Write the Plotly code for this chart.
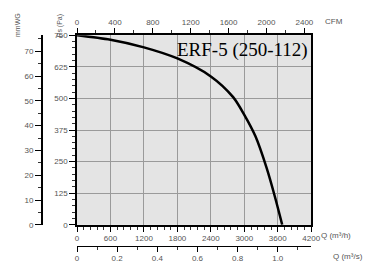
import plotly.graph_objects as go

# Fan curve data
q_m3h = [0, 600, 1200, 1800, 2400, 2800, 3000, 3200, 3400, 3550, 3680]
ps_pa = [750, 732, 702, 658, 587, 505, 435, 350, 225, 110, 0]

pa_ticks = [0, 125, 250, 375, 500, 625, 750]
q_ticks = [0, 600, 1200, 1800, 2400, 3000, 3600, 4200]
cfm_ticks = [0, 400, 800, 1200, 1600, 2000, 2400]
m3s_ticks = [0, 0.2, 0.4, 0.6, 0.8, 1.0]
m3s_labels = ["0", "0.2", "0.4", "0.6", "0.8", "1.0"]
mmwg_ticks = [0, 10, 20, 30, 40, 50, 60, 70]
label = "ERF-5 (250-112)"

Q_MAX = 4200
PA_MAX = 750
CFM_PER_M3H = 1 / 1.69901
MMWG_PER_PA = 1 / 9.80665

W, H = 382, 268
OFF = 8  # page body offset


def px(x):
    x = 77 + (x - 77) * 1.035
    return (x - OFF) / W


def py(y):
    y = 32 + (y - 32) * 1.022
    return (H - (y - OFF)) / H


xd = [px(77), px(310)]
yd = [py(224), py(32)]

tickfont = dict(family="Liberation Sans", size=8, color="#555")

fig = go.Figure()
fig.add_trace(go.Scatter(x=q_m3h, y=ps_pa, mode="lines",
                         line=dict(color="black", width=2.5, shape="spline", smoothing=0.8),
                         hoverinfo="skip", showlegend=False))
# invisible helper traces so auxiliary axes render
fig.add_trace(go.Scatter(x=[0, Q_MAX * CFM_PER_M3H], y=[0, 0], xaxis="x2", yaxis="y",
                         mode="markers", marker=dict(opacity=0), showlegend=False, hoverinfo="skip"))
fig.add_trace(go.Scatter(x=[0, Q_MAX / 3600], y=[0, 0], xaxis="x3", yaxis="y",
                         mode="markers", marker=dict(opacity=0), showlegend=False, hoverinfo="skip"))
fig.add_trace(go.Scatter(x=[0, 0], y=[0, PA_MAX * MMWG_PER_PA], xaxis="x", yaxis="y2",
                         mode="markers", marker=dict(opacity=0), showlegend=False, hoverinfo="skip"))

axline = dict(showline=True, linecolor="black", linewidth=1.5, zeroline=False)

fig.update_layout(
    width=W, height=H,
    margin=dict(l=0, r=0, t=0, b=0),
    paper_bgcolor="white",
    plot_bgcolor="#e4e4e4",
    showlegend=False,
    xaxis=dict(domain=xd, range=[0, Q_MAX], tickvals=q_ticks, ticks="outside", ticklen=5,
               tickcolor="black", showgrid=True, gridcolor="#9a9a9a", gridwidth=1,
               minor=dict(dtick=120, ticks="outside", ticklen=3, tickcolor="#333", showgrid=False),
               tickfont=tickfont, mirror=False, anchor="y", **axline),
    xaxis2=dict(domain=xd, range=[0, Q_MAX * CFM_PER_M3H], overlaying="x", side="top", anchor="y",
                tickvals=cfm_ticks, ticks="outside", ticklen=5, tickcolor="black", showgrid=False,
                minor=dict(dtick=200, ticks="outside", ticklen=3, tickcolor="#333"),
                tickfont=tickfont, **axline),
    xaxis3=dict(domain=xd, range=[0, Q_MAX / 3600], overlaying="x", side="bottom", anchor="free",
                position=py(245), tickvals=m3s_ticks, ticktext=m3s_labels,
                ticks="outside", ticklen=5, tickcolor="black", showgrid=False,
                minor=dict(dtick=0.1, ticks="outside", ticklen=3, tickcolor="#333"),
                tickfont=tickfont, showline=True, linecolor="black", linewidth=1, zeroline=False),
    yaxis=dict(domain=yd, range=[0, PA_MAX], tickvals=pa_ticks, ticks="outside", ticklen=6,
               tickcolor="black", showgrid=True, gridcolor="#9a9a9a", gridwidth=1,
               minor=dict(dtick=25, ticks="outside", ticklen=3, tickcolor="#333", showgrid=False),
               tickfont=tickfont, mirror=True, anchor="x", **axline),
    yaxis2=dict(domain=yd, range=[0, PA_MAX * MMWG_PER_PA], overlaying="y", side="left",
                anchor="free", position=px(42), tickvals=mmwg_ticks, ticks="outside", ticklen=6,
                tickcolor="black", showgrid=False,
                minor=dict(dtick=5, ticks="outside", ticklen=3, tickcolor="#333"),
                tickfont=tickfont, showline=True, linecolor="black", linewidth=1.5, zeroline=False),
)

ann_font = dict(family="Liberation Sans", size=8, color="#555")
vert_font = dict(family="Liberation Sans", size=7, color="#555")
fig.add_annotation(text=label, x=2960, y=690, xref="x", yref="y", showarrow=False,
                   font=dict(family="Liberation Serif", size=19, color="black"))
fig.add_annotation(text="CFM", x=px(322), y=py(18), xref="paper", yref="paper",
                   xanchor="left", yanchor="middle", showarrow=False, font=ann_font)
fig.add_annotation(text="Q (m³/h)", x=px(318), y=py(235), xref="paper", yref="paper",
                   xanchor="left", yanchor="middle", showarrow=False, font=ann_font)
fig.add_annotation(text="Q (m³/s)", x=px(330), y=py(256), xref="paper", yref="paper",
                   xanchor="left", yanchor="middle", showarrow=False, font=ann_font)
fig.add_annotation(text="mmWG", x=px(18), y=py(22), xref="paper", yref="paper",
                   textangle=-90, xanchor="center", yanchor="middle", showarrow=False, font=vert_font)
fig.add_annotation(text="Ps (Pa)", x=px(60), y=py(22), xref="paper", yref="paper",
                   textangle=-90, xanchor="center", yanchor="middle", showarrow=False, font=vert_font)

fig.write_html("out.html")
